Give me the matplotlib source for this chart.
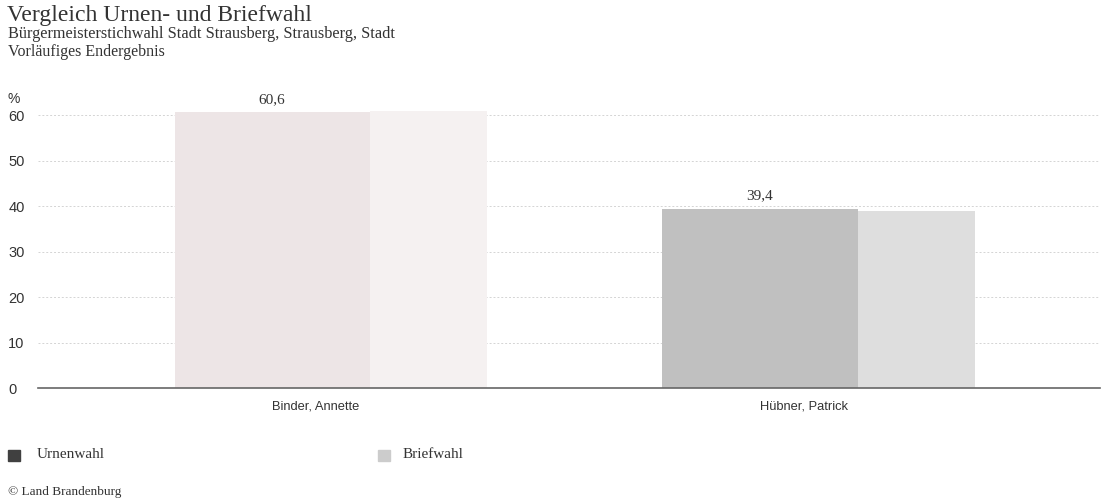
import numpy as np
import matplotlib.pyplot as plt

# data
candidates = ["Binder, Annette", "Hübner, Patrick"]
urnenwahl = [60.6, 39.4]
briefwahl = [61.0, 39.0]
urnen_colors = ["#ede5e6", "#c0c0c0"]
brief_colors = ["#f5f1f1", "#dedede"]
yticks = [0, 10, 20, 30, 40, 50, 60]

serif = ["Liberation Serif", "DejaVu Serif"]
sans = ["Liberation Sans", "DejaVu Sans"]

fig = plt.figure(figsize=(11.05, 5.03), dpi=100)
ax = fig.add_axes([38 / 1105, 1 - 388 / 503, 1062 / 1105, 282 / 503])

x = np.arange(len(candidates))
ax.bar(x - 0.29, urnenwahl, width=0.40, align="edge", color=urnen_colors, zorder=2)
ax.bar(x + 0.11, briefwahl, width=0.24, align="edge", color=brief_colors, zorder=2)

for xi, v in zip(x, urnenwahl):
    ax.text(xi - 0.09, v + 1.4, f"{v:.1f}".replace(".", ","), ha="center", va="bottom",
            fontsize=11, family=serif, color="#333333")

ax.set_xlim(-0.57, 1.607)
ax.set_ylim(0, 62)
ax.set_yticks(yticks)
ax.set_yticklabels([str(t) for t in yticks], family=sans, fontsize=10.5, color="#333333")
for lab in ax.get_yticklabels():
    lab.set_horizontalalignment("left")
ax.tick_params(axis="y", length=0, pad=21.5)
ax.set_xticks(x)
ax.set_xticklabels(candidates, family=sans, fontsize=9.3, color="#333333")
ax.tick_params(axis="x", length=0, pad=9)

ax.grid(axis="y", color="#d4d4d4", linestyle=(0, (2, 2)), linewidth=0.7, zorder=0)
for s in ["top", "right", "left"]:
    ax.spines[s].set_visible(False)
ax.spines["bottom"].set_color("#666666")
ax.spines["bottom"].set_linewidth(1.2)
ax.spines["bottom"].set_zorder(3)

fig.text(8 / 1105, 1 - 99 / 503, "%", family=sans, fontsize=10, color="#333333", va="center")

fig.text(7 / 1105, 1 - 15 / 503, "Vergleich Urnen- und Briefwahl", family=serif, fontsize=17,
         color="#333333", va="center")
fig.text(8 / 1105, 1 - 34 / 503, "Bürgermeisterstichwahl Stadt Strausberg, Strausberg, Stadt",
         family=serif, fontsize=11.7, color="#333333", va="center")
fig.text(8 / 1105, 1 - 52 / 503, "Vorläufiges Endergebnis", family=serif, fontsize=11.5,
         color="#333333", va="center")

# legend
fig.patches.append(plt.Rectangle((8 / 1105, 1 - 461 / 503), 12 / 1105, 11 / 503,
                                 transform=fig.transFigure, color="#404040"))
fig.text(37 / 1105, 1 - 455 / 503, "Urnenwahl", family=serif, fontsize=11, color="#333333", va="center")
fig.patches.append(plt.Rectangle((378 / 1105, 1 - 461 / 503), 12 / 1105, 11 / 503,
                                 transform=fig.transFigure, color="#cccccc"))
fig.text(403 / 1105, 1 - 455 / 503, "Briefwahl", family=serif, fontsize=11, color="#333333", va="center")

fig.text(8 / 1105, 1 - 492 / 503, "© Land Brandenburg", family=serif, fontsize=9.5, color="#333333", va="center")

fig.savefig("out.png", dpi=100)
